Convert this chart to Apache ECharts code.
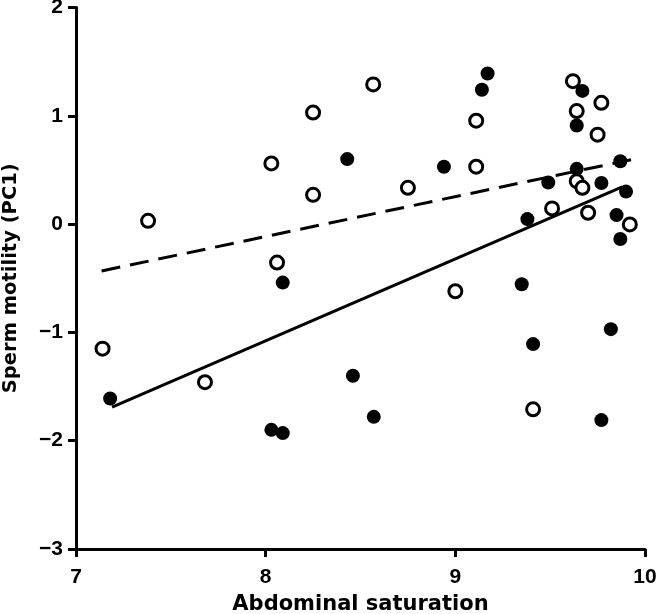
<!DOCTYPE html>
<html>
<head>
<meta charset="utf-8">
<script src="https://cdn.jsdelivr.net/npm/echarts@6/dist/echarts.min.js"></script>
<style>html,body{margin:0;padding:0;background:#fff}#c{width:659px;height:614px}</style>
</head>
<body>
<div id="c"></div>
<script>
// Filled circles
var filledX = [7.18, 8.03, 8.09, 8.09, 8.43, 8.94, 9.17, 9.14, 9.35, 9.38, 9.49, 9.67, 9.64, 9.64, 9.77, 9.87, 9.90, 9.85, 9.87, 8.46, 8.57, 9.41, 9.82, 9.77];
var filledY = [-1.61, -1.90, -1.93, -0.54, 0.60, 0.53, 1.39, 1.24, -0.555, 0.046, 0.384, 1.23, 0.91, 0.51, 0.38, 0.58, 0.30, 0.083, -0.138, -1.40, -1.78, -1.108, -0.97, -1.81];
// Open circles
var openX = [7.14, 7.68, 7.38, 8.03, 8.25, 8.25, 8.06, 8.567, 8.75, 9.11, 9.11, 9.00, 9.51, 9.62, 9.64, 9.77, 9.75, 9.64, 9.67, 9.70, 9.92, 9.41];
var openY = [-1.15, -1.46, 0.03, 0.56, 1.03, 0.27, -0.355, 1.29, 0.335, 0.53, 0.955, -0.62, 0.145, 1.32, 1.044, 1.12, 0.826, 0.396, 0.335, 0.105, -0.003, -1.71];
// Regression lines (end points)
var solidLineX = [7.19, 9.88];
var solidLineY = [-1.69, 0.344];
var dashedLineX = [7.135, 9.93];
var dashedLineY = [-0.433, 0.596];
// Axes
var xTicks = [7, 8, 9, 10];
var yTicks = [-3, -2, -1, 0, 1, 2];
var xTitle = 'Abdominal saturation';
var yTitle = 'Sperm motility (PC1)';

function zip(a, b) { return a.map(function (v, i) { return [v, b[i]]; }); }

var labelFont = { color: '#000', fontFamily: '"Liberation Sans", Arial, sans-serif', fontWeight: 'bold', fontSize: 21 };
var titleFont = { color: '#000', fontFamily: '"DejaVu Sans", sans-serif', fontWeight: 'bold' };

var chart = echarts.init(document.getElementById('c'), null, { renderer: 'canvas' });
chart.setOption({
  animation: false,
  backgroundColor: '#fff',
  grid: { left: 76, right: 14, top: 7.5, bottom: 65, containLabel: false, outerBoundsMode: 'none' },
  xAxis: {
    type: 'value', min: xTicks[0], max: xTicks[xTicks.length - 1], interval: 1,
    splitLine: { show: false },
    axisLine: { show: true, onZero: false, lineStyle: { color: '#000', width: 3 } },
    axisTick: { show: true, length: 8, lineStyle: { color: '#000', width: 3 } },
    axisLabel: Object.assign({ margin: 18, hideOverlap: false }, labelFont),
    name: xTitle, nameLocation: 'middle', nameGap: 45,
    nameTextStyle: Object.assign({ fontSize: 21 }, titleFont)
  },
  yAxis: {
    type: 'value', min: yTicks[0], max: yTicks[yTicks.length - 1], interval: 1,
    splitLine: { show: false },
    axisLine: { show: true, onZero: false, lineStyle: { color: '#000', width: 3 } },
    axisTick: { show: true, length: 8, lineStyle: { color: '#000', width: 3 } },
    axisLabel: Object.assign({ margin: 13, hideOverlap: false, formatter: function (v) { return v < 0 ? '\u2212' + Math.abs(v) : String(v); } }, labelFont),
    name: yTitle, nameLocation: 'middle', nameGap: 55,
    nameTextStyle: Object.assign({ fontSize: 19.5 }, titleFont)
  },
  series: [
    {
      type: 'line', data: zip(solidLineX, solidLineY), symbol: 'none', z: 2,
      lineStyle: { color: '#000', width: 3 }
    },
    {
      type: 'line', data: zip(dashedLineX, dashedLineY), symbol: 'none', z: 2,
      lineStyle: { color: '#000', width: 3, type: [19, 10] }
    },
    {
      type: 'scatter', data: zip(filledX, filledY), symbol: 'circle', symbolSize: 14, z: 3,
      itemStyle: { color: '#000', opacity: 1 }
    },
    {
      type: 'scatter', data: zip(openX, openY), symbol: 'circle', symbolSize: 13, z: 4,
      itemStyle: { color: '#fff', borderColor: '#000', borderWidth: 3, opacity: 1 }
    }
  ]
});
</script>
</body>
</html>
